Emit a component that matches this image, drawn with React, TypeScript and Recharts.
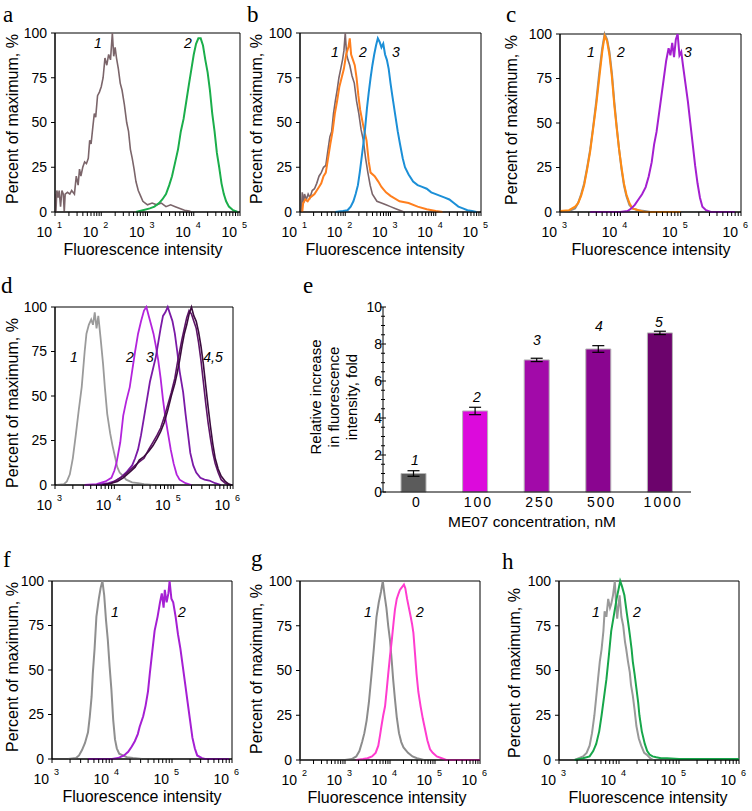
import React from 'react';
import {
  LineChart,
  Line,
  XAxis,
  YAxis,
  ReferenceArea,
  BarChart,
  Bar,
  ErrorBar,
  Cell,
} from 'recharts';

// histogram curves: [log10 fluorescence intensity, percent of maximum]
const aCtrl: [number, number][] = [
  [1.0, 10], [1.02, 0], [1.04, 12], [1.07, 8], [1.09, 12], [1.12, 3], [1.15, 12], [1.18, 10], [1.2, 0],
  [1.22, 10], [1.27, 11], [1.32, 10], [1.36, 12], [1.42, 10], [1.46, 20], [1.5, 15], [1.53, 24], [1.56, 20],
  [1.6, 25], [1.64, 28], [1.68, 27], [1.72, 30], [1.75, 40], [1.78, 38], [1.82, 48], [1.85, 55], [1.88, 53],
  [1.92, 65], [1.96, 67], [2.0, 70], [2.04, 75], [2.08, 86], [2.12, 82], [2.16, 88], [2.2, 85], [2.24, 100],
  [2.27, 87], [2.3, 92], [2.33, 86], [2.37, 80], [2.41, 72], [2.45, 68], [2.5, 60], [2.55, 50], [2.59, 45],
  [2.63, 35], [2.67, 30], [2.71, 24], [2.75, 17], [2.8, 12], [2.85, 9], [2.9, 6], [2.95, 5], [3.0, 4],
  [3.1, 5], [3.2, 4], [3.3, 5], [3.4, 3], [3.5, 4], [3.6, 3], [3.7, 2], [3.8, 1], [3.9, 0.5], [3.95, 0],
];
const aStained: [number, number][] = [
  [2.75, 0], [2.9, 1], [3.05, 2], [3.15, 3], [3.25, 5], [3.32, 7], [3.4, 10], [3.47, 15], [3.53, 20],
  [3.6, 28], [3.66, 35], [3.72, 45], [3.78, 52], [3.84, 62], [3.9, 72], [3.95, 80], [4.0, 88], [4.05, 94],
  [4.1, 97], [4.15, 97], [4.2, 93], [4.25, 85], [4.3, 78], [4.35, 68], [4.4, 55], [4.45, 45], [4.5, 33],
  [4.55, 25], [4.6, 16], [4.65, 10], [4.7, 6], [4.76, 3], [4.85, 1], [4.95, 0],
];

const bCtrl: [number, number][] = [
  [1.03, 0], [1.05, 11], [1.08, 5], [1.1, 10], [1.14, 7], [1.18, 10], [1.22, 8], [1.27, 12], [1.32, 13],
  [1.37, 16], [1.42, 20], [1.47, 22], [1.52, 25], [1.57, 26], [1.62, 35], [1.66, 42], [1.7, 45], [1.74, 55],
  [1.78, 62], [1.82, 68], [1.86, 75], [1.9, 80], [1.94, 85], [1.97, 90], [2.0, 100], [2.03, 88], [2.06, 85],
  [2.1, 82], [2.15, 76], [2.2, 72], [2.25, 62], [2.3, 55], [2.35, 46], [2.4, 40], [2.45, 30], [2.5, 22],
  [2.55, 15], [2.6, 10], [2.7, 6], [2.8, 5], [2.9, 4], [3.0, 3], [3.1, 2], [3.2, 1], [3.3, 0],
];
const bLow: [number, number][] = [
  [1.05, 0], [1.07, 5], [1.12, 7], [1.17, 6], [1.22, 8], [1.27, 9], [1.32, 10], [1.37, 12], [1.42, 14],
  [1.47, 16], [1.52, 20], [1.57, 22], [1.62, 30], [1.67, 38], [1.72, 45], [1.77, 55], [1.82, 62], [1.87, 70],
  [1.92, 75], [1.97, 80], [2.02, 88], [2.07, 92], [2.1, 97], [2.13, 88], [2.17, 85], [2.21, 82], [2.25, 75],
  [2.29, 65], [2.33, 57], [2.4, 48], [2.47, 40], [2.52, 28], [2.56, 22], [2.65, 20], [2.73, 17], [2.8, 14],
  [2.9, 11], [3.0, 9], [3.2, 6], [3.4, 5], [3.6, 3], [3.8, 1.5], [4.0, 0.5], [4.15, 0],
];
const bHigh: [number, number][] = [
  [1.78, 0], [1.95, 0.5], [2.05, 1], [2.12, 3], [2.18, 6], [2.23, 10], [2.28, 15], [2.32, 22], [2.36, 30],
  [2.4, 38], [2.44, 47], [2.48, 58], [2.52, 67], [2.56, 75], [2.6, 82], [2.64, 88], [2.68, 93], [2.72, 97],
  [2.76, 95], [2.8, 92], [2.84, 94], [2.88, 88], [2.92, 85], [2.96, 80], [3.0, 72], [3.04, 65], [3.1, 55],
  [3.16, 45], [3.21, 38], [3.27, 30], [3.32, 25], [3.4, 21], [3.5, 17], [3.6, 15], [3.7, 14], [3.8, 13],
  [3.9, 11], [4.0, 10], [4.1, 9], [4.2, 8], [4.3, 7], [4.4, 5], [4.5, 3], [4.6, 2], [4.7, 1], [4.8, 0.5],
  [4.9, 0],
];

const cCtrl: [number, number][] = [
  [3.0, 0], [3.15, 0.5], [3.25, 2], [3.3, 5], [3.35, 10], [3.4, 16], [3.45, 25], [3.5, 35], [3.55, 48],
  [3.6, 62], [3.65, 78], [3.7, 92], [3.74, 100], [3.78, 97], [3.82, 90], [3.86, 78], [3.9, 62], [3.94, 48],
  [3.98, 35], [4.02, 24], [4.06, 15], [4.1, 9], [4.15, 4], [4.2, 2], [4.3, 1], [4.4, 0.5], [4.5, 0],
];
const cMid: [number, number][] = [
  [3.0, 0.5], [3.15, 1], [3.25, 3], [3.3, 5], [3.35, 9], [3.4, 15], [3.45, 24], [3.5, 34], [3.55, 47],
  [3.6, 60], [3.65, 75], [3.7, 90], [3.74, 99], [3.78, 96], [3.82, 88], [3.86, 76], [3.9, 60], [3.94, 47],
  [3.98, 35], [4.02, 25], [4.06, 16], [4.1, 10], [4.15, 5], [4.2, 2], [4.3, 1], [4.4, 0], [4.6, 0],
  [4.8, 0], [5.0, 0],
];
const cHigh: [number, number][] = [
  [3.5, 0], [4.0, 0], [4.12, 0.5], [4.18, 2], [4.24, 4], [4.3, 7], [4.36, 10], [4.42, 14], [4.47, 20],
  [4.52, 28], [4.56, 38], [4.6, 45], [4.64, 55], [4.68, 65], [4.72, 75], [4.76, 85], [4.8, 92], [4.83, 88],
  [4.86, 95], [4.89, 87], [4.92, 97], [4.95, 100], [4.98, 88], [5.01, 90], [5.04, 82], [5.08, 72],
  [5.12, 62], [5.16, 50], [5.2, 38], [5.24, 26], [5.28, 16], [5.32, 8], [5.36, 3], [5.42, 1], [5.5, 0],
  [5.7, 0], [5.9, 0],
];

const dCtrl: [number, number][] = [
  [3.03, 0], [3.15, 0.5], [3.2, 2], [3.25, 6], [3.3, 15], [3.35, 28], [3.4, 42], [3.45, 55], [3.5, 75],
  [3.53, 85], [3.57, 90], [3.61, 93], [3.64, 90], [3.67, 97], [3.7, 88], [3.73, 95], [3.77, 82], [3.81, 68],
  [3.84, 55], [3.88, 40], [3.93, 29], [3.97, 22], [4.01, 16], [4.05, 10], [4.09, 7], [4.15, 5], [4.2, 3],
  [4.3, 1.5], [4.4, 1], [4.5, 0.5], [4.65, 0],
];
const d100: [number, number][] = [
  [3.5, 0], [3.7, 0.5], [3.85, 2], [3.95, 4], [4.0, 8], [4.04, 13], [4.1, 24], [4.15, 39], [4.2, 47],
  [4.26, 55], [4.3, 64], [4.35, 75], [4.4, 85], [4.45, 92], [4.5, 98], [4.54, 100], [4.58, 95], [4.62, 90],
  [4.66, 85], [4.7, 78], [4.74, 70], [4.78, 60], [4.82, 48], [4.86, 38], [4.9, 30], [4.95, 20], [5.0, 12],
  [5.05, 6], [5.1, 3], [5.2, 1], [5.3, 0],
];
const d250: [number, number][] = [
  [3.7, 0], [3.9, 1], [4.0, 2], [4.1, 4], [4.2, 7], [4.3, 11], [4.35, 15], [4.4, 20], [4.45, 28], [4.5, 38],
  [4.55, 48], [4.6, 58], [4.65, 65], [4.7, 72], [4.74, 80], [4.78, 88], [4.82, 95], [4.86, 97], [4.9, 100],
  [4.94, 96], [4.98, 92], [5.02, 85], [5.06, 75], [5.1, 64], [5.16, 52], [5.2, 40], [5.24, 29], [5.28, 18],
  [5.33, 11], [5.38, 7], [5.45, 4], [5.52, 3], [5.6, 2.5], [5.7, 1], [5.8, 0],
];
const d500: [number, number][] = [
  [3.8, 0], [3.95, 1], [4.05, 3], [4.15, 5], [4.25, 8], [4.35, 11], [4.42, 13], [4.5, 15], [4.58, 20],
  [4.65, 24], [4.72, 28], [4.78, 32], [4.84, 38], [4.9, 45], [4.96, 52], [5.02, 60], [5.06, 68], [5.1, 75],
  [5.14, 82], [5.18, 88], [5.22, 94], [5.26, 98], [5.3, 96], [5.34, 92], [5.38, 88], [5.42, 80], [5.46, 70],
  [5.5, 58], [5.54, 46], [5.58, 35], [5.62, 26], [5.66, 18], [5.7, 12], [5.75, 7], [5.8, 3], [5.87, 1],
  [5.94, 0],
];
const d1000: [number, number][] = [
  [3.8, 0], [3.95, 1], [4.05, 2], [4.15, 4], [4.25, 7], [4.35, 10], [4.42, 14], [4.5, 16], [4.58, 19],
  [4.65, 22], [4.72, 26], [4.78, 30], [4.84, 35], [4.9, 42], [4.96, 50], [5.02, 57], [5.06, 63], [5.1, 70],
  [5.14, 78], [5.18, 85], [5.22, 90], [5.26, 96], [5.3, 100], [5.34, 95], [5.38, 92], [5.42, 86],
  [5.46, 78], [5.5, 68], [5.54, 56], [5.58, 44], [5.62, 33], [5.66, 23], [5.7, 15], [5.75, 9], [5.8, 5],
  [5.87, 2], [5.93, 0.5], [5.98, 0],
];

const fCtrl: [number, number][] = [
  [3.27, 0], [3.4, 0.5], [3.45, 2], [3.5, 5], [3.55, 9], [3.6, 15], [3.63, 24], [3.66, 35], [3.68, 48],
  [3.71, 62], [3.74, 80], [3.78, 90], [3.81, 96], [3.84, 100], [3.87, 92], [3.9, 78], [3.93, 67], [3.96, 52],
  [3.99, 39], [4.02, 22], [4.05, 11], [4.08, 6], [4.12, 3], [4.18, 2], [4.25, 1], [4.35, 0.5], [4.5, 0],
];
const fStained: [number, number][] = [
  [3.6, 0], [4.0, 0], [4.1, 0.5], [4.2, 2], [4.27, 4], [4.33, 7], [4.38, 10], [4.43, 14], [4.46, 18],
  [4.52, 24], [4.56, 30], [4.6, 38], [4.63, 48], [4.67, 60], [4.71, 72], [4.76, 80], [4.8, 88], [4.83, 93],
  [4.86, 85], [4.88, 95], [4.91, 88], [4.94, 93], [4.96, 100], [4.99, 90], [5.02, 88], [5.06, 80],
  [5.1, 70], [5.14, 62], [5.18, 52], [5.22, 42], [5.26, 32], [5.3, 22], [5.34, 12], [5.38, 6], [5.42, 2],
  [5.5, 0.5], [5.55, 0], [5.8, 0], [5.95, 0],
];

const gCtrl: [number, number][] = [
  [2.0, 0], [2.5, 0], [3.0, 0], [3.15, 0.5], [3.25, 2], [3.32, 5], [3.38, 10], [3.43, 15], [3.48, 22],
  [3.53, 32], [3.59, 48], [3.64, 62], [3.7, 80], [3.75, 88], [3.8, 94], [3.84, 100], [3.88, 92], [3.92, 85],
  [3.96, 75], [4.0, 67], [4.04, 55], [4.07, 45], [4.11, 34], [4.15, 24], [4.2, 15], [4.25, 10], [4.3, 7],
  [4.4, 4], [4.5, 2], [4.6, 1], [4.75, 0],
];
const gStained: [number, number][] = [
  [3.25, 0], [3.4, 0.5], [3.5, 1], [3.6, 2], [3.68, 4], [3.74, 8], [3.78, 14], [3.81, 19], [3.85, 25],
  [3.89, 30], [3.93, 40], [3.96, 48], [4.0, 58], [4.04, 67], [4.08, 77], [4.11, 84], [4.15, 90], [4.19, 93],
  [4.22, 95], [4.25, 96], [4.28, 97], [4.31, 98], [4.34, 96], [4.38, 90], [4.42, 85], [4.46, 80],
  [4.49, 76], [4.52, 71], [4.56, 58], [4.59, 48], [4.63, 38], [4.68, 30], [4.73, 23], [4.78, 17],
  [4.83, 11], [4.89, 6], [4.95, 4], [5.04, 2], [5.15, 1], [5.25, 0], [5.5, 0], [5.8, 0], [6.0, 0],
];

const hCtrl: [number, number][] = [
  [3.26, 0], [3.33, 1], [3.4, 2], [3.46, 4], [3.51, 8], [3.55, 15], [3.59, 25], [3.62, 35], [3.65, 45],
  [3.68, 55], [3.71, 62], [3.74, 72], [3.76, 83], [3.79, 80], [3.82, 90], [3.85, 85], [3.87, 87],
  [3.9, 92], [3.93, 100], [3.95, 88], [3.97, 79], [3.99, 86], [4.01, 92], [4.04, 80], [4.07, 75],
  [4.1, 66], [4.12, 62], [4.15, 55], [4.18, 49], [4.2, 42], [4.23, 36], [4.26, 28], [4.29, 19],
  [4.33, 12], [4.37, 8], [4.42, 4], [4.46, 3], [4.52, 1], [4.57, 0],
];
const hStained: [number, number][] = [
  [3.26, 0], [3.4, 1], [3.51, 2], [3.57, 5], [3.62, 9], [3.67, 16], [3.71, 25], [3.75, 35], [3.79, 45],
  [3.83, 58], [3.87, 72], [3.91, 80], [3.94, 86], [3.96, 90], [3.99, 95], [4.02, 100], [4.05, 97],
  [4.09, 92], [4.13, 82], [4.16, 75], [4.18, 70], [4.21, 62], [4.23, 55], [4.26, 48], [4.29, 40],
  [4.32, 32], [4.34, 25], [4.38, 16], [4.43, 9], [4.47, 5], [4.51, 3], [4.56, 2], [4.62, 1.5], [4.7, 1],
  [4.8, 1], [5.0, 0.5], [5.3, 0.5], [5.6, 0.5], [5.9, 0.5], [6.0, 0.5],
];

// panel e
const concentrations = ['0', '100', '250', '500', '1000'];
const foldIncrease = [1.0, 4.38, 7.14, 7.73, 8.6];
const foldError = [0.15, 0.2, 0.09, 0.18, 0.09];
const barColors = ['#5b5b5b', '#dc0adc', '#a20aa9', '#8a0590', '#6c036c'];
const foldTicks = [0, 2, 4, 6, 8, 10];

const pctTicks = [0, 25, 50, 75, 100];

const SANS = '"Liberation Sans", Arial, sans-serif';
const SERIF = '"Liberation Serif", "Times New Roman", serif';

const toPts = (arr: [number, number][]) => arr.map(([x, y]) => ({ x, y }));

const LogTick = (props: any) => {
  const { x, y, payload } = props;
  const v = payload.value as number;
  const major = Math.abs(v - Math.round(v)) < 1e-6;
  return (
    <g>
      <line x1={x} y1={y} x2={x} y2={y + 4} stroke="#000" />
      {major && (
        <>
          <text x={x - 3} y={y + 25} textAnchor="end" fontSize={14} fill="#000" fontFamily={SANS}>
            10
          </text>
          <text x={x + 2} y={y + 16} fontSize={9} fill="#000" fontFamily={SANS}>
            {Math.round(v)}
          </text>
        </>
      )}
    </g>
  );
};

type Curve = { pts: [number, number][]; color: string; width?: number };

function Histogram({
  left, top, w, h, lo, hi, curves,
}: { left: number; top: number; w: number; h: number; lo: number; hi: number; curves: Curve[] }) {
  const ticks: number[] = [];
  for (let d = lo; d < hi; d++) for (let k = 1; k < 10; k++) ticks.push(d + Math.log10(k));
  ticks.push(hi);
  return (
    <div style={{ position: 'absolute', left: left - 50, top: top - 12 }}>
      <LineChart width={w + 68} height={h + 47} margin={{ top: 12, right: 18, bottom: 0, left: 0 }}>
        <XAxis
          type="number"
          dataKey="x"
          domain={[lo, hi]}
          ticks={ticks}
          interval={0}
          allowDataOverflow
          height={35}
          tickSize={0}
          tickMargin={0}
          tickLine={false}
          axisLine={{ stroke: '#000' }}
          tick={<LogTick />}
        />
        <YAxis
          type="number"
          domain={[0, 100]}
          ticks={pctTicks}
          interval={0}
          width={50}
          tickSize={4}
          tickMargin={4}
          tickLine={{ stroke: '#000' }}
          axisLine={{ stroke: '#000' }}
          tick={{ fontSize: 14, fill: '#000', fontFamily: SANS }}
        />
        {curves.map((c, i) => (
          <Line
            key={i}
            data={toPts(c.pts)}
            dataKey="y"
            type="linear"
            stroke={c.color}
            strokeWidth={c.width ?? 2}
            dot={false}
            isAnimationActive={false}
          />
        ))}
        <ReferenceArea x1={lo} x2={hi} y1={0} y2={100} fill="none" stroke="#000" strokeWidth={1} />
      </LineChart>
    </div>
  );
}

const FoldTick = (props: any) => {
  const { x, y, payload } = props;
  const v = payload.value as number;
  const major = foldTicks.includes(v);
  return (
    <g>
      <line x1={x - (major ? 3 : 2)} y1={y} x2={x + (major ? 3 : 2)} y2={y} stroke="#000" />
      {major && (
        <text x={x - 1} y={y} dy={5} textAnchor="end" fontSize={14} fill="#000" fontFamily={SANS}>
          {v}
        </text>
      )}
    </g>
  );
};

const ConcTick = (props: any) => {
  const { x, y, payload } = props;
  return (
    <text x={x + 3} y={y + 15} textAnchor="middle" fontSize={14} letterSpacing={2} fill="#000" fontFamily={SANS}>
      {payload.value}
    </text>
  );
};

function FoldBars() {
  const data = concentrations.map((c, i) => ({ c, v: foldIncrease[i], err: foldError[i] }));
  const yTicks: number[] = [];
  for (let t = 0; t <= 10; t += 0.5) yTicks.push(t);
  return (
    <div style={{ position: 'absolute', left: 383 - 45, top: 307 - 12 }}>
      <BarChart width={45 + 308 + 10} height={185 + 42} data={data} margin={{ top: 12, right: 10, bottom: 0, left: 0 }}>
        <XAxis
          dataKey="c"
          type="category"
          height={30}
          tickSize={0}
          tickMargin={0}
          tickLine={false}
          axisLine={{ stroke: '#000' }}
          interval={0}
          tick={<ConcTick />}
        />
        <YAxis
          type="number"
          domain={[0, 10]}
          ticks={yTicks}
          interval={0}
          width={45}
          tickSize={0}
          tickMargin={0}
          tickLine={false}
          axisLine={{ stroke: '#000' }}
          tick={<FoldTick />}
        />
        <Bar dataKey="v" barSize={25} stroke="#b5b5b5" strokeWidth={1} isAnimationActive={false}>
          {data.map((_, i) => (
            <Cell key={i} fill={barColors[i]} />
          ))}
          <ErrorBar dataKey="err" width={6} stroke="#000" strokeWidth={1.2} direction="y" />
        </Bar>
      </BarChart>
    </div>
  );
}

const T = (p: { x: number; y: number; s?: string; size?: number; italic?: boolean; serif?: boolean; rot?: boolean; anchor?: string }) => (
  <text
    x={p.x}
    y={p.y}
    fontSize={p.size ?? 16}
    fontStyle={p.italic ? 'italic' : 'normal'}
    fontFamily={p.serif ? SERIF : SANS}
    textAnchor={(p.anchor as any) ?? 'middle'}
    dominantBaseline={p.rot ? 'central' : undefined}
    transform={p.rot ? `rotate(-90 ${p.x} ${p.y})` : undefined}
    fill="#000"
  >
    {p.s}
  </text>
);

export default function App() {
  const yTitle = 'Percent of maximum, %';
  const xTitle = 'Fluorescence intensity';
  return (
    <div style={{ position: 'absolute', left: 0, top: 0, width: 752, height: 811, background: '#fff', overflow: 'hidden' }}>
      <Histogram left={55} top={33} w={185} h={179} lo={1} hi={5}
        curves={[{ pts: aCtrl, color: '#7b656a', width: 1.6 }, { pts: aStained, color: '#1bae4b' }]} />
      <Histogram left={300} top={33} w={181} h={179} lo={1} hi={5}
        curves={[{ pts: bCtrl, color: '#7b656a', width: 1.6 }, { pts: bLow, color: '#ff7f1e' }, { pts: bHigh, color: '#1b8fd7' }]} />
      <Histogram left={560} top={34} w={181} h={178} lo={3} hi={6}
        curves={[{ pts: cCtrl, color: '#8e8e8e' }, { pts: cMid, color: '#ff8a12' }, { pts: cHigh, color: '#a41fd0' }]} />
      <Histogram left={55} top={307} w={178} h={178} lo={3} hi={6}
        curves={[
          { pts: dCtrl, color: '#9b9b9b', width: 1.8 }, { pts: d100, color: '#b324dc', width: 1.8 },
          { pts: d250, color: '#7a1aa6', width: 1.8 }, { pts: d500, color: '#5e1468', width: 1.6 },
          { pts: d1000, color: '#3c0b3e', width: 1.6 },
        ]} />
      <FoldBars />
      <Histogram left={52} top={581} w={180} h={178} lo={3} hi={6}
        curves={[{ pts: fCtrl, color: '#8f8f8f' }, { pts: fStained, color: '#a51fd3' }]} />
      <Histogram left={300} top={581} w={180} h={179} lo={2} hi={6}
        curves={[{ pts: gCtrl, color: '#8c8c8c' }, { pts: gStained, color: '#ff3ccf' }]} />
      <Histogram left={559} top={581} w={180} h={179} lo={3} hi={6}
        curves={[{ pts: hCtrl, color: '#999999' }, { pts: hStained, color: '#17a64a' }]} />

      <svg width={752} height={811} style={{ position: 'absolute', left: 0, top: 0, pointerEvents: 'none' }}>
        {/* panel letters */}
        <T x={3} y={22} s="a" serif size={23} anchor="start" />
        <T x={247} y={22} s="b" serif size={23} anchor="start" />
        <T x={506} y={22} s="c" serif size={23} anchor="start" />
        <T x={1} y={293} s="d" serif size={23} anchor="start" />
        <T x={303} y={293} s="e" serif size={23} anchor="start" />
        <T x={3} y={567} s="f" serif size={23} anchor="start" />
        <T x={251} y={566} s="g" serif size={23} anchor="start" />
        <T x={502} y={569} s="h" serif size={23} anchor="start" />

        {/* axis titles */}
        <T x={12} y={119} s={yTitle} rot />
        <T x={256} y={119} s={yTitle} rot />
        <T x={511} y={120} s={yTitle} rot />
        <T x={12} y={403} s={yTitle} rot />
        <T x={12} y={667} s={yTitle} rot />
        <T x={256} y={669} s={yTitle} rot />
        <T x={514} y={673} s={yTitle} rot />
        <T x={143} y={255} s={xTitle} />
        <T x={385} y={255} s={xTitle} />
        <T x={651} y={255} s={xTitle} />
        <T x={142} y={802} s={xTitle} />
        <T x={387} y={803} s={xTitle} />
        <T x={648} y={803} s={xTitle} />
        <T x={315} y={397} s="Relative increase" size={15} rot />
        <T x={333} y={397} s="in fluorescence" size={15} rot />
        <T x={351} y={397} s="intensity, fold" size={15} rot />
        <T x={532} y={527} s="ME07 concentration, nM" size={15.5} />

        {/* curve numbers */}
        <T x={98} y={48} s="1" size={14} italic />
        <T x={188} y={48} s="2" size={14} italic />
        <T x={335} y={57} s="1" size={14} italic />
        <T x={363} y={57} s="2" size={14} italic />
        <T x={396} y={57} s="3" size={14} italic />
        <T x={591} y={57} s="1" size={14} italic />
        <T x={621} y={57} s="2" size={14} italic />
        <T x={688} y={57} s="3" size={14} italic />
        <T x={74} y={362} s="1" size={14} italic />
        <T x={130} y={362} s="2" size={14} italic />
        <T x={150} y={362} s="3" size={14} italic />
        <T x={213} y={362} s="4,5" size={14} italic />
        <T x={415} y={465} s="1" size={14} italic />
        <T x={477} y={402} s="2" size={14} italic />
        <T x={537} y={345} s="3" size={14} italic />
        <T x={599} y={331} s="4" size={14} italic />
        <T x={659} y={327} s="5" size={14} italic />
        <T x={115} y={617} s="1" size={14} italic />
        <T x={182} y={617} s="2" size={14} italic />
        <T x={368} y={617} s="1" size={14} italic />
        <T x={420} y={617} s="2" size={14} italic />
        <T x={596} y={617} s="1" size={14} italic />
        <T x={637} y={617} s="2" size={14} italic />
      </svg>
    </div>
  );
}
